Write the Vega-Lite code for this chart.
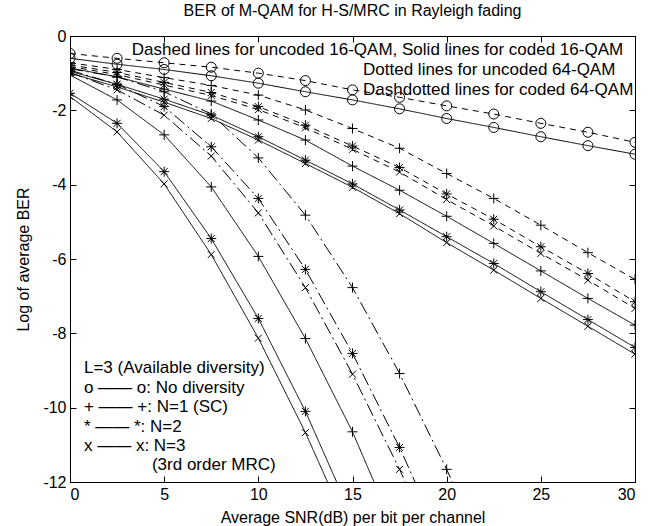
{
"$schema":"https://vega.github.io/schema/vega-lite/v6.json",
"width":565,"height":446,
"autosize":{"type":"none"},
"padding":{"left":70,"top":36,"right":21,"bottom":44},
"background":"white",
"title":{"text":"BER of M-QAM for H-S/MRC in Rayleigh fading","font":"Liberation Sans","fontSize":16,"fontWeight":"normal","color":"black","anchor":"middle","offset":9},
"config":{"view":{"stroke":"black","strokeWidth":1},
"axis":{"labelFont":"Liberation Sans","labelFontSize":16,"labelColor":"black","titleFont":"Liberation Sans","titleFontSize":16,"titleFontWeight":"normal","titleColor":"black","domainColor":"black","tickColor":"black","grid":false,"tickSize":-6}},
"datasets":{
"curves":[
{"curve":"o_dash","marker":"o","style":"dashed","snr":0,"ber":-0.47},{"curve":"o_dash","marker":"o","style":"dashed","snr":2.5,"ber":-0.6},{"curve":"o_dash","marker":"o","style":"dashed","snr":5,"ber":-0.72},{"curve":"o_dash","marker":"o","style":"dashed","snr":7.5,"ber":-0.84},{"curve":"o_dash","marker":"o","style":"dashed","snr":10,"ber":-1.0},{"curve":"o_dash","marker":"o","style":"dashed","snr":12.5,"ber":-1.2},{"curve":"o_dash","marker":"o","style":"dashed","snr":15,"ber":-1.45},{"curve":"o_dash","marker":"o","style":"dashed","snr":17.5,"ber":-1.65},{"curve":"o_dash","marker":"o","style":"dashed","snr":20,"ber":-1.88},{"curve":"o_dash","marker":"o","style":"dashed","snr":22.5,"ber":-2.1},{"curve":"o_dash","marker":"o","style":"dashed","snr":25,"ber":-2.35},{"curve":"o_dash","marker":"o","style":"dashed","snr":27.5,"ber":-2.59},{"curve":"o_dash","marker":"o","style":"dashed","snr":30,"ber":-2.86},
{"curve":"o_solid","marker":"o","style":"solid","snr":0,"ber":-0.6},{"curve":"o_solid","marker":"o","style":"solid","snr":2.5,"ber":-0.76},{"curve":"o_solid","marker":"o","style":"solid","snr":5,"ber":-0.9},{"curve":"o_solid","marker":"o","style":"solid","snr":7.5,"ber":-1.07},{"curve":"o_solid","marker":"o","style":"solid","snr":10,"ber":-1.27},{"curve":"o_solid","marker":"o","style":"solid","snr":12.5,"ber":-1.5},{"curve":"o_solid","marker":"o","style":"solid","snr":15,"ber":-1.72},{"curve":"o_solid","marker":"o","style":"solid","snr":17.5,"ber":-1.96},{"curve":"o_solid","marker":"o","style":"solid","snr":20,"ber":-2.22},{"curve":"o_solid","marker":"o","style":"solid","snr":22.5,"ber":-2.46},{"curve":"o_solid","marker":"o","style":"solid","snr":25,"ber":-2.71},{"curve":"o_solid","marker":"o","style":"solid","snr":27.5,"ber":-2.95},{"curve":"o_solid","marker":"o","style":"solid","snr":30,"ber":-3.18},
{"curve":"p_dash","marker":"+","style":"dashed","snr":0,"ber":-0.72},{"curve":"p_dash","marker":"+","style":"dashed","snr":2.5,"ber":-0.9},{"curve":"p_dash","marker":"+","style":"dashed","snr":5,"ber":-1.12},{"curve":"p_dash","marker":"+","style":"dashed","snr":7.5,"ber":-1.33},{"curve":"p_dash","marker":"+","style":"dashed","snr":10,"ber":-1.59},{"curve":"p_dash","marker":"+","style":"dashed","snr":12.5,"ber":-1.99},{"curve":"p_dash","marker":"+","style":"dashed","snr":15,"ber":-2.49},{"curve":"p_dash","marker":"+","style":"dashed","snr":17.5,"ber":-3.02},{"curve":"p_dash","marker":"+","style":"dashed","snr":20,"ber":-3.7},{"curve":"p_dash","marker":"+","style":"dashed","snr":22.5,"ber":-4.37},{"curve":"p_dash","marker":"+","style":"dashed","snr":25,"ber":-5.09},{"curve":"p_dash","marker":"+","style":"dashed","snr":27.5,"ber":-5.83},{"curve":"p_dash","marker":"+","style":"dashed","snr":30,"ber":-6.55},
{"curve":"s_dash","marker":"*","style":"dashed","snr":0,"ber":-0.78},{"curve":"s_dash","marker":"*","style":"dashed","snr":2.5,"ber":-0.98},{"curve":"s_dash","marker":"*","style":"dashed","snr":5,"ber":-1.25},{"curve":"s_dash","marker":"*","style":"dashed","snr":7.5,"ber":-1.52},{"curve":"s_dash","marker":"*","style":"dashed","snr":10,"ber":-1.9},{"curve":"s_dash","marker":"*","style":"dashed","snr":12.5,"ber":-2.4},{"curve":"s_dash","marker":"*","style":"dashed","snr":15,"ber":-2.96},{"curve":"s_dash","marker":"*","style":"dashed","snr":17.5,"ber":-3.54},{"curve":"s_dash","marker":"*","style":"dashed","snr":20,"ber":-4.25},{"curve":"s_dash","marker":"*","style":"dashed","snr":22.5,"ber":-4.93},{"curve":"s_dash","marker":"*","style":"dashed","snr":25,"ber":-5.67},{"curve":"s_dash","marker":"*","style":"dashed","snr":27.5,"ber":-6.39},{"curve":"s_dash","marker":"*","style":"dashed","snr":30,"ber":-7.15},
{"curve":"x_dash","marker":"x","style":"dashed","snr":0,"ber":-0.82},{"curve":"x_dash","marker":"x","style":"dashed","snr":2.5,"ber":-1.04},{"curve":"x_dash","marker":"x","style":"dashed","snr":5,"ber":-1.32},{"curve":"x_dash","marker":"x","style":"dashed","snr":7.5,"ber":-1.6},{"curve":"x_dash","marker":"x","style":"dashed","snr":10,"ber":-1.98},{"curve":"x_dash","marker":"x","style":"dashed","snr":12.5,"ber":-2.47},{"curve":"x_dash","marker":"x","style":"dashed","snr":15,"ber":-3.05},{"curve":"x_dash","marker":"x","style":"dashed","snr":17.5,"ber":-3.66},{"curve":"x_dash","marker":"x","style":"dashed","snr":20,"ber":-4.4},{"curve":"x_dash","marker":"x","style":"dashed","snr":22.5,"ber":-5.11},{"curve":"x_dash","marker":"x","style":"dashed","snr":25,"ber":-5.85},{"curve":"x_dash","marker":"x","style":"dashed","snr":27.5,"ber":-6.57},{"curve":"x_dash","marker":"x","style":"dashed","snr":30,"ber":-7.33},
{"curve":"p_solid","marker":"+","style":"solid","snr":0,"ber":-0.86},{"curve":"p_solid","marker":"+","style":"solid","snr":2.5,"ber":-1.1},{"curve":"p_solid","marker":"+","style":"solid","snr":5,"ber":-1.43},{"curve":"p_solid","marker":"+","style":"solid","snr":7.5,"ber":-1.75},{"curve":"p_solid","marker":"+","style":"solid","snr":10,"ber":-2.26},{"curve":"p_solid","marker":"+","style":"solid","snr":12.5,"ber":-2.8},{"curve":"p_solid","marker":"+","style":"solid","snr":15,"ber":-3.5},{"curve":"p_solid","marker":"+","style":"solid","snr":17.5,"ber":-4.15},{"curve":"p_solid","marker":"+","style":"solid","snr":20,"ber":-4.85},{"curve":"p_solid","marker":"+","style":"solid","snr":22.5,"ber":-5.58},{"curve":"p_solid","marker":"+","style":"solid","snr":25,"ber":-6.32},{"curve":"p_solid","marker":"+","style":"solid","snr":27.5,"ber":-7.06},{"curve":"p_solid","marker":"+","style":"solid","snr":30,"ber":-7.78},
{"curve":"s_solid","marker":"*","style":"solid","snr":0,"ber":-0.95},{"curve":"s_solid","marker":"*","style":"solid","snr":2.5,"ber":-1.3},{"curve":"s_solid","marker":"*","style":"solid","snr":5,"ber":-1.7},{"curve":"s_solid","marker":"*","style":"solid","snr":7.5,"ber":-2.13},{"curve":"s_solid","marker":"*","style":"solid","snr":10,"ber":-2.71},{"curve":"s_solid","marker":"*","style":"solid","snr":12.5,"ber":-3.34},{"curve":"s_solid","marker":"*","style":"solid","snr":15,"ber":-3.98},{"curve":"s_solid","marker":"*","style":"solid","snr":17.5,"ber":-4.68},{"curve":"s_solid","marker":"*","style":"solid","snr":20,"ber":-5.4},{"curve":"s_solid","marker":"*","style":"solid","snr":22.5,"ber":-6.12},{"curve":"s_solid","marker":"*","style":"solid","snr":25,"ber":-6.88},{"curve":"s_solid","marker":"*","style":"solid","snr":27.5,"ber":-7.63},{"curve":"s_solid","marker":"*","style":"solid","snr":30,"ber":-8.38},
{"curve":"x_solid","marker":"x","style":"solid","snr":0,"ber":-1.0},{"curve":"x_solid","marker":"x","style":"solid","snr":2.5,"ber":-1.37},{"curve":"x_solid","marker":"x","style":"solid","snr":5,"ber":-1.78},{"curve":"x_solid","marker":"x","style":"solid","snr":7.5,"ber":-2.22},{"curve":"x_solid","marker":"x","style":"solid","snr":10,"ber":-2.8},{"curve":"x_solid","marker":"x","style":"solid","snr":12.5,"ber":-3.43},{"curve":"x_solid","marker":"x","style":"solid","snr":15,"ber":-4.07},{"curve":"x_solid","marker":"x","style":"solid","snr":17.5,"ber":-4.78},{"curve":"x_solid","marker":"x","style":"solid","snr":20,"ber":-5.56},{"curve":"x_solid","marker":"x","style":"solid","snr":22.5,"ber":-6.3},{"curve":"x_solid","marker":"x","style":"solid","snr":25,"ber":-7.06},{"curve":"x_solid","marker":"x","style":"solid","snr":27.5,"ber":-7.81},{"curve":"x_solid","marker":"x","style":"solid","snr":30,"ber":-8.56},
{"curve":"p_dot","marker":"+","style":"solid","snr":0,"ber":-1.05},{"curve":"p_dot","marker":"+","style":"solid","snr":2.5,"ber":-1.72},{"curve":"p_dot","marker":"+","style":"solid","snr":5,"ber":-2.66},{"curve":"p_dot","marker":"+","style":"solid","snr":7.5,"ber":-4.06},{"curve":"p_dot","marker":"+","style":"solid","snr":10,"ber":-5.93},{"curve":"p_dot","marker":"+","style":"solid","snr":12.5,"ber":-8.14},{"curve":"p_dot","marker":"+","style":"solid","snr":15,"ber":-10.65},{"curve":"p_dot","marker":"+","style":"solid","snr":17.5,"ber":-13.6},
{"curve":"s_dot","marker":"*","style":"solid","snr":0,"ber":-1.54},{"curve":"s_dot","marker":"*","style":"solid","snr":2.5,"ber":-2.35},{"curve":"s_dot","marker":"*","style":"solid","snr":5,"ber":-3.65},{"curve":"s_dot","marker":"*","style":"solid","snr":7.5,"ber":-5.45},{"curve":"s_dot","marker":"*","style":"solid","snr":10,"ber":-7.6},{"curve":"s_dot","marker":"*","style":"solid","snr":12.5,"ber":-10.1},{"curve":"s_dot","marker":"*","style":"solid","snr":15,"ber":-12.96},
{"curve":"x_dot","marker":"x","style":"solid","snr":0,"ber":-1.63},{"curve":"x_dot","marker":"x","style":"solid","snr":2.5,"ber":-2.58},{"curve":"x_dot","marker":"x","style":"solid","snr":5,"ber":-3.98},{"curve":"x_dot","marker":"x","style":"solid","snr":7.5,"ber":-5.88},{"curve":"x_dot","marker":"x","style":"solid","snr":10,"ber":-8.13},{"curve":"x_dot","marker":"x","style":"solid","snr":12.5,"ber":-10.67},{"curve":"x_dot","marker":"x","style":"solid","snr":15,"ber":-13.5},
{"curve":"p_dd","marker":"+","style":"dashdot","snr":0,"ber":-0.88},{"curve":"p_dd","marker":"+","style":"dashdot","snr":2.5,"ber":-1.1},{"curve":"p_dd","marker":"+","style":"dashdot","snr":5,"ber":-1.5},{"curve":"p_dd","marker":"+","style":"dashdot","snr":7.5,"ber":-2.1},{"curve":"p_dd","marker":"+","style":"dashdot","snr":10,"ber":-3.28},{"curve":"p_dd","marker":"+","style":"dashdot","snr":12.5,"ber":-4.82},{"curve":"p_dd","marker":"+","style":"dashdot","snr":15,"ber":-6.77},{"curve":"p_dd","marker":"+","style":"dashdot","snr":17.5,"ber":-9.08},{"curve":"p_dd","marker":"+","style":"dashdot","snr":20,"ber":-11.66},{"curve":"p_dd","marker":"+","style":"dashdot","snr":22.5,"ber":-14.5},
{"curve":"s_dd","marker":"*","style":"dashdot","snr":0,"ber":-0.92},{"curve":"s_dd","marker":"*","style":"dashdot","snr":2.5,"ber":-1.3},{"curve":"s_dd","marker":"*","style":"dashdot","snr":5,"ber":-1.9},{"curve":"s_dd","marker":"*","style":"dashdot","snr":7.5,"ber":-2.98},{"curve":"s_dd","marker":"*","style":"dashdot","snr":10,"ber":-4.37},{"curve":"s_dd","marker":"*","style":"dashdot","snr":12.5,"ber":-6.28},{"curve":"s_dd","marker":"*","style":"dashdot","snr":15,"ber":-8.54},{"curve":"s_dd","marker":"*","style":"dashdot","snr":17.5,"ber":-11.07},{"curve":"s_dd","marker":"*","style":"dashdot","snr":20,"ber":-13.9},
{"curve":"x_dd","marker":"x","style":"dashdot","snr":0,"ber":-0.98},{"curve":"x_dd","marker":"x","style":"dashdot","snr":2.5,"ber":-1.45},{"curve":"x_dd","marker":"x","style":"dashdot","snr":5,"ber":-2.13},{"curve":"x_dd","marker":"x","style":"dashdot","snr":7.5,"ber":-3.23},{"curve":"x_dd","marker":"x","style":"dashdot","snr":10,"ber":-4.76},{"curve":"x_dd","marker":"x","style":"dashdot","snr":12.5,"ber":-6.77},{"curve":"x_dd","marker":"x","style":"dashdot","snr":15,"ber":-9.1},{"curve":"x_dd","marker":"x","style":"dashdot","snr":17.5,"ber":-11.66},{"curve":"x_dd","marker":"x","style":"dashdot","snr":20,"ber":-14.5}
],
"notes":[
{"tx":3.28,"ty":-0.377,"label":"Dashed lines for uncoded 16-QAM, Solid lines for coded 16-QAM"},
{"tx":15.56,"ty":-0.915,"label":"Dotted lines for uncoded 64-QAM"},
{"tx":15.56,"ty":-1.45,"label":"Dashdotted lines for coded 64-QAM"},
{"tx":0.74,"ty":-8.94,"label":"L=3 (Available diversity)"},
{"tx":0.74,"ty":-9.47,"label":"o —— o: No diversity"},
{"tx":0.74,"ty":-9.99,"label":"+ —— +: N=1 (SC)"},
{"tx":0.74,"ty":-10.52,"label":"* —— *: N=2"},
{"tx":0.74,"ty":-11.04,"label":"x —— x: N=3"},
{"tx":4.35,"ty":-11.55,"label":"(3rd order MRC)"}
]},
"layer":[
{"data":{"name":"curves"},
"mark":{"type":"line","clip":true,"color":"black","strokeWidth":1},
"encoding":{
"x":{"field":"snr","type":"quantitative","scale":{"domain":[0,30],"nice":false,"zero":false},"axis":{"values":[0,5,10,15,20,25,30],"title":"Average SNR(dB) per bit per channel","labelPadding":10,"titlePadding":7,"domain":false}},
"y":{"field":"ber","type":"quantitative","scale":{"domain":[-12,0],"nice":false,"zero":false},"axis":{"values":[-12,-10,-8,-6,-4,-2,0],"labelExpr":"'' + datum.value","title":"Log of average BER","labelPadding":10,"titlePadding":11,"domain":false}},
"detail":{"field":"curve","type":"nominal"},
"strokeDash":{"field":"style","type":"nominal","scale":{"domain":["dashed","solid","dashdot"],"range":[[6,5],[1,0],[13,4,2,4]]},"legend":null}}},
{"data":{"name":"curves"},
"mark":{"type":"point","clip":true,"filled":false,"stroke":"black","strokeWidth":1,"size":100,"opacity":1},
"encoding":{
"x":{"field":"snr","type":"quantitative","axis":{"orient":"top","values":[0,5,10,15,20,25,30],"labels":false,"title":null,"domain":false}},
"y":{"field":"ber","type":"quantitative","axis":{"orient":"right","values":[-12,-10,-8,-6,-4,-2,0],"labels":false,"title":null,"domain":false}},
"shape":{"field":"marker","type":"nominal","scale":{"domain":["o","+","*","x"],"range":["circle","M-1,0L1,0M0,-1L0,1","M-1,0L1,0M0,-1L0,1M-0.7,-0.7L0.7,0.7M-0.7,0.7L0.7,-0.7","M-0.7,-0.7L0.7,0.7M-0.7,0.7L0.7,-0.7"]},"legend":null}}},
{"data":{"name":"notes"},
"mark":{"type":"text","align":"left","baseline":"middle","font":"Liberation Sans","fontSize":17,"color":"black"},
"encoding":{
"x":{"field":"tx","type":"quantitative","axis":null},
"y":{"field":"ty","type":"quantitative","axis":null},
"text":{"field":"label","type":"nominal"}}}
],
"resolve":{"axis":{"x":"independent","y":"independent"}}
}
